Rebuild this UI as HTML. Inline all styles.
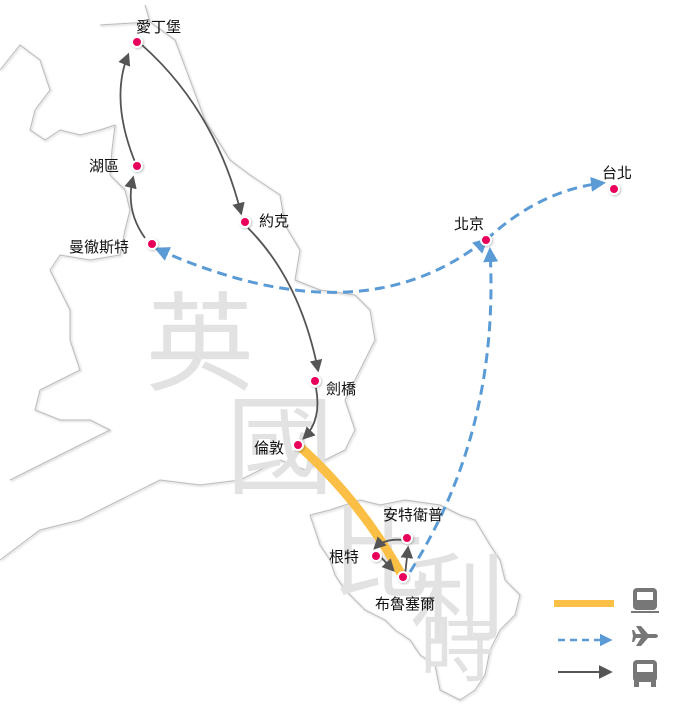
<!DOCTYPE html>
<html><head><meta charset="utf-8"><style>
body{margin:0;background:#fff;width:686px;height:706px;overflow:hidden}
svg{display:block}
text{font-family:"Liberation Sans","Noto Sans CJK TC",sans-serif}
.lbl{font-size:15px;fill:#111}
.big{font-size:108px;fill:#e2e2e2;font-family:"Noto Sans CJK TC",sans-serif}
</style></head><body>
<svg width="686" height="706" viewBox="0 0 686 706">
<defs>
<marker id="ag" viewBox="0 0 10 10" refX="8" refY="5" markerWidth="7" markerHeight="7" orient="auto"><path d="M0,0 L10,5 L0,10 z" fill="#555"/></marker>
<marker id="ab" viewBox="0 0 10 10" refX="8" refY="5" markerWidth="5" markerHeight="5" orient="auto"><path d="M0,0 L10,5 L0,10 z" fill="#5b9bd5"/></marker>
<filter id="sh"><feDropShadow dx="1" dy="1" stdDeviation="1" flood-color="#000" flood-opacity="0.25"/></filter>
</defs>
<g fill="none" stroke="#bbb" stroke-width="1" filter="url(#sh)">
<path d="M100,25 L150,22 L145,5 M150,22 L175,40 L190,80 L205,120 L230,160 L250,175 L280,195 L285,225 L300,250 L295,280 L320,290 L355,295 L370,310 L375,340 L360,370 L345,400 L355,430 L345,450 L325,460 L305,470 L280,460 L260,470 L240,480 L200,485 L160,480 L120,500 L80,520 L40,530 L0,560"/>
<path d="M0,70 L20,45 L40,60 L50,90 L35,110 L30,130 L45,140 L60,130 L80,135 L100,130 L115,125 L112,150 L110,175 L125,190 L130,210 L125,230 L120,255 L90,260 L60,255 L50,270 L60,290 L70,310 L70,340 L80,370 L60,380 L40,390 L35,410 L60,420 L90,420 L110,430 L80,445 L60,455 L30,470 L10,480"/>
<path d="M310,515 L330,510 L345,505 L360,500 L380,505 L405,500 L440,505 L460,515 L475,520 L490,545 L500,560 L505,580 L520,595 L515,615 L500,630 L490,650 L485,675 L475,690 L460,700 L440,690 L435,665 L420,655 L410,640 L395,630 L385,620 L365,610 L355,600 L345,590 L335,575 L330,560 L320,545 L315,530 Z"/>
</g>
<text class="big" x="146" y="382">英</text>
<text class="big" x="226" y="485">國</text>
<text class="big" x="330" y="590" style="font-size:100px">比</text>
<text class="big" x="410" y="632" style="font-size:95px">利</text>
<text class="big" x="420" y="675" style="font-size:75px">時</text>
<path d="M298,445 Q360,500 403,577" fill="none" stroke="#fbbf45" stroke-width="9"/>
<g fill="none" stroke="#5b9bd5" stroke-width="3" stroke-dasharray="10,6">
<path d="M485,240 Q360,340 157,249" marker-end="url(#ab)"/>
<path d="M410,572 Q500,430 490,250" marker-end="url(#ab)"/>
<path d="M486,240 Q540,190 603,183" marker-start="url(#ab)" marker-end="url(#ab)"/>
</g>
<g fill="none" stroke="#555" stroke-width="1.8">
<path d="M142,45 Q215,110 241,213" marker-end="url(#ag)"/>
<path d="M135,162 Q110,100 128,55" marker-end="url(#ag)"/>
<path d="M145,238 Q125,210 133,178" marker-end="url(#ag)"/>
<path d="M248,228 Q300,280 318,370" marker-end="url(#ag)"/>
<path d="M316,388 Q322,420 304,438" marker-end="url(#ag)"/>
<path d="M377,553 L393,570" marker-end="url(#ag)"/>
<path d="M405,575 L408,548" marker-end="url(#ag)"/>
<path d="M403,540 Q385,538 375,548" marker-end="url(#ag)"/>
</g>
<g fill="#e8005a" stroke="#fff" stroke-width="2" filter="url(#sh)">
<circle cx="137" cy="42" r="5"/><circle cx="137" cy="166" r="5"/><circle cx="152" cy="244" r="5"/>
<circle cx="245" cy="222" r="5"/><circle cx="315" cy="381" r="5"/><circle cx="298" cy="445" r="5"/>
<circle cx="407" cy="538" r="5"/><circle cx="376" cy="556" r="5"/><circle cx="403" cy="577" r="5"/>
<circle cx="486" cy="240" r="5"/><circle cx="614" cy="189" r="5"/>
</g>
<g>
<text x="136" y="32" class="lbl">愛丁堡</text>
<text x="89" y="171" class="lbl">湖區</text>
<text x="69" y="252" class="lbl">曼徹斯特</text>
<text x="259" y="226" class="lbl">約克</text>
<text x="326" y="394" class="lbl">劍橋</text>
<text x="254" y="453" class="lbl">倫敦</text>
<text x="383" y="520" class="lbl">安特衛普</text>
<text x="329" y="562" class="lbl">根特</text>
<text x="375" y="609" class="lbl">布魯塞爾</text>
<text x="454" y="229" class="lbl">北京</text>
<text x="602" y="178" class="lbl">台北</text>
</g>
<rect x="554" y="600" width="60" height="7" fill="#fbbf45"/>
<path d="M558,640 L610,640" stroke="#5b9bd5" stroke-width="2.5" stroke-dasharray="7,5" marker-end="url(#ab)"/>
<path d="M558,672 L610,672" stroke="#555" stroke-width="2" marker-end="url(#ag)"/>
<g fill="#777">
<rect x="633" y="588" width="24" height="22" rx="4"/>
<rect x="637" y="592" width="16" height="8" fill="#fff"/>
<rect x="631" y="611" width="28" height="2"/>
<path d="M636,626 L641,626 L648,634 L656,634 Q660,636 656,638 L648,638 L641,646 L636,646 L641,638 L636,638 L634,642 L632,642 L633,636 L632,630 L634,630 L636,634 L641,634 Z"/>
<rect x="633" y="660" width="24" height="22" rx="4"/>
<rect x="637" y="664" width="16" height="8" fill="#fff"/>
<rect x="634" y="681" width="5" height="6"/><rect x="651" y="681" width="5" height="6"/>
</g>
</svg>
</body></html>
